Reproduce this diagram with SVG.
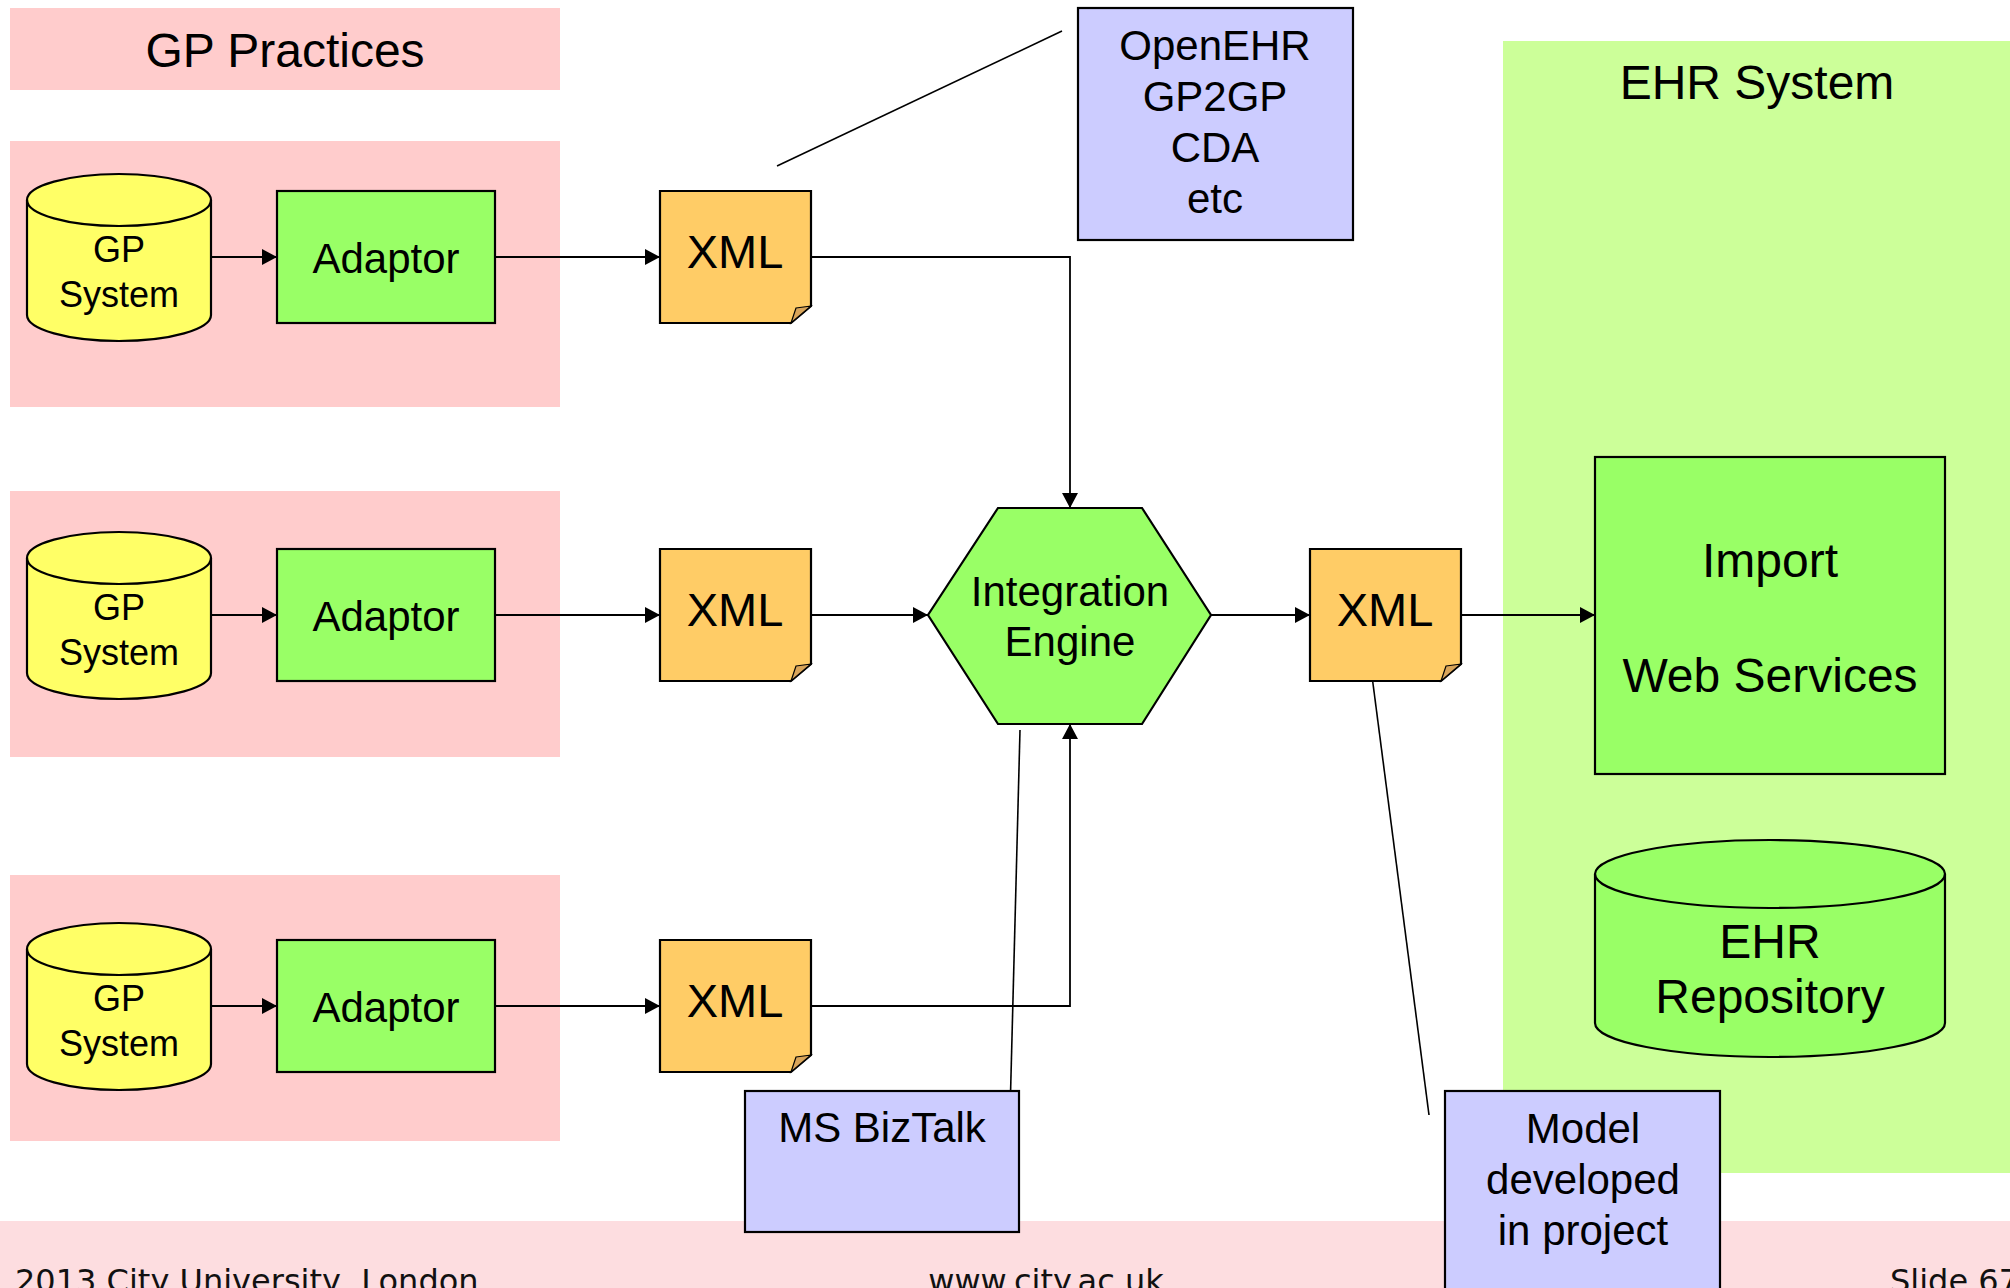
<svg xmlns="http://www.w3.org/2000/svg" width="2010" height="1288" viewBox="0 0 2010 1288">
  <defs>
    <style>
      .lbl { font-family: "Liberation Sans", Arial, sans-serif; fill: #000; text-anchor: middle; }
      .foot { font-family: "DejaVu Sans", Verdana, sans-serif; fill: #111; font-size: 32px; }
      .panel-gp { fill: #FFCCCC; }
      .panel-ehr { fill: #CCFF99; }
      .node-green { fill: #99FF66; stroke: #000; stroke-width: 2.2; }
      .node-yellow { fill: #FFFF66; stroke: #000; stroke-width: 2.2; }
      .node-xml { fill: #FFCC66; stroke: #000; stroke-width: 2.2; }
      .fold { fill: #D9A55A; stroke: #000; stroke-width: 1.2; }
      .note { fill: #CCCCFF; stroke: #000; stroke-width: 2.2; }
      .conn { fill: none; stroke: #000; stroke-width: 1.8; }
      .callout { fill: none; stroke: #000; stroke-width: 1.6; }
    </style>
    <marker id="arrowhead" viewBox="0 0 15 16" refX="15" refY="8" markerWidth="15" markerHeight="16" markerUnits="userSpaceOnUse" orient="auto">
      <path d="M0,0 L15,8 L0,16 z" fill="#000"/>
    </marker>
    <!-- database cylinder used by the three GP systems -->
    <g id="gpCylinder">
      <path class="node-yellow" d="M27,200 A92,26 0 0 1 211,200 L211,315 A92,26 0 0 1 27,315 Z"/>
      <path fill="none" stroke="#000" stroke-width="2.2" d="M27,200 A92,26 0 0 0 211,200"/>
    </g>
    <!-- XML document with a folded corner -->
    <g id="xmlDoc">
      <path class="node-xml" d="M0,0 H151 V115 L131,132 H0 Z"/>
      <path class="fold" d="M136,117 L151,115 L131,132 Z"/>
    </g>
  </defs>

  <rect width="2010" height="1288" fill="#FFFFFF"/>

  <!-- background panels -->
  <g id="panels">
    <rect class="panel-gp" x="10" y="8" width="550" height="82"/>
    <text class="lbl" x="285" y="67" font-size="48">GP Practices</text>
    <rect class="panel-gp" x="10" y="141" width="550" height="266"/>
    <rect class="panel-gp" x="10" y="491" width="550" height="266"/>
    <rect class="panel-gp" x="10" y="875" width="550" height="266"/>
    <rect class="panel-ehr" x="1503" y="41" width="507" height="1132"/>
    <text class="lbl" x="1757" y="99" font-size="48">EHR System</text>
  </g>

  <!-- footer band -->
  <g id="footer">
    <rect x="0" y="1221" width="2010" height="67" fill="#FDDDE0"/>
    <text class="foot" x="15" y="1292">2013 City University, London.</text>
    <text class="foot" x="1046" y="1292" text-anchor="middle">www.city.ac.uk</text>
    <text class="foot" x="1890" y="1292">Slide 67</text>
  </g>

  <!-- connectors -->
  <g id="connectors">
    <line class="conn" x1="211" y1="257" x2="277" y2="257" marker-end="url(#arrowhead)"/>
    <line class="conn" x1="495" y1="257" x2="660" y2="257" marker-end="url(#arrowhead)"/>
    <polyline class="conn" points="811,257 1070,257 1070,508" marker-end="url(#arrowhead)"/>

    <line class="conn" x1="211" y1="615" x2="277" y2="615" marker-end="url(#arrowhead)"/>
    <line class="conn" x1="495" y1="615" x2="660" y2="615" marker-end="url(#arrowhead)"/>
    <line class="conn" x1="811" y1="615" x2="928" y2="615" marker-end="url(#arrowhead)"/>

    <line class="conn" x1="211" y1="1006" x2="277" y2="1006" marker-end="url(#arrowhead)"/>
    <line class="conn" x1="495" y1="1006" x2="660" y2="1006" marker-end="url(#arrowhead)"/>
    <polyline class="conn" points="811,1006 1070,1006 1070,724" marker-end="url(#arrowhead)"/>

    <line class="conn" x1="1211" y1="615" x2="1310" y2="615" marker-end="url(#arrowhead)"/>
    <line class="conn" x1="1461" y1="615" x2="1595" y2="615" marker-end="url(#arrowhead)"/>

    <!-- annotation leader lines -->
    <line class="callout" x1="777" y1="166" x2="1062" y2="31"/>
    <line class="callout" x1="1020" y1="730" x2="1010" y2="1114"/>
    <line class="callout" x1="1372" y1="676" x2="1429" y2="1115"/>
  </g>

  <!-- row 1 -->
  <g id="gp-system-1">
    <use href="#gpCylinder"/>
    <text class="lbl" x="119" y="262" font-size="36">GP</text>
    <text class="lbl" x="119" y="307" font-size="36">System</text>
  </g>
  <g id="adaptor-1">
    <rect class="node-green" x="277" y="191" width="218" height="132"/>
    <text class="lbl" x="386" y="273" font-size="42">Adaptor</text>
  </g>
  <g id="xml-1">
    <use href="#xmlDoc" x="660" y="191"/>
    <text class="lbl" x="735" y="268" font-size="47">XML</text>
  </g>

  <!-- row 2 -->
  <g id="gp-system-2">
    <use href="#gpCylinder" y="358"/>
    <text class="lbl" x="119" y="620" font-size="36">GP</text>
    <text class="lbl" x="119" y="665" font-size="36">System</text>
  </g>
  <g id="adaptor-2">
    <rect class="node-green" x="277" y="549" width="218" height="132"/>
    <text class="lbl" x="386" y="631" font-size="42">Adaptor</text>
  </g>
  <g id="xml-2">
    <use href="#xmlDoc" x="660" y="549"/>
    <text class="lbl" x="735" y="626" font-size="47">XML</text>
  </g>

  <!-- row 3 -->
  <g id="gp-system-3">
    <use href="#gpCylinder" y="749"/>
    <text class="lbl" x="119" y="1011" font-size="36">GP</text>
    <text class="lbl" x="119" y="1056" font-size="36">System</text>
  </g>
  <g id="adaptor-3">
    <rect class="node-green" x="277" y="940" width="218" height="132"/>
    <text class="lbl" x="386" y="1022" font-size="42">Adaptor</text>
  </g>
  <g id="xml-3">
    <use href="#xmlDoc" x="660" y="940"/>
    <text class="lbl" x="735" y="1017" font-size="47">XML</text>
  </g>

  <!-- integration engine -->
  <g id="integration-engine">
    <polygon class="node-green" points="998,508 1142,508 1211,615 1142,724 998,724 928,615"/>
    <text class="lbl" x="1070" y="606" font-size="42">Integration</text>
    <text class="lbl" x="1070" y="656" font-size="42">Engine</text>
  </g>

  <!-- outgoing XML -->
  <g id="xml-out">
    <use href="#xmlDoc" x="1310" y="549"/>
    <text class="lbl" x="1385" y="626" font-size="47">XML</text>
  </g>

  <!-- EHR side -->
  <g id="import-web-services">
    <rect class="node-green" x="1595" y="457" width="350" height="317"/>
    <text class="lbl" x="1770" y="577" font-size="48">Import</text>
    <text class="lbl" x="1770" y="692" font-size="48">Web Services</text>
  </g>
  <g id="ehr-repository">
    <path class="node-green" d="M1595,874 A175,34 0 0 1 1945,874 L1945,1023 A175,34 0 0 1 1595,1023 Z"/>
    <path fill="none" stroke="#000" stroke-width="2.2" d="M1595,874 A175,34 0 0 0 1945,874"/>
    <text class="lbl" x="1770" y="958" font-size="48">EHR</text>
    <text class="lbl" x="1770" y="1013" font-size="48">Repository</text>
  </g>

  <!-- annotation boxes -->
  <g id="formats-note">
    <rect class="note" x="1078" y="8" width="275" height="232"/>
    <text class="lbl" x="1215" y="60" font-size="42">OpenEHR</text>
    <text class="lbl" x="1215" y="111" font-size="42">GP2GP</text>
    <text class="lbl" x="1215" y="162" font-size="42">CDA</text>
    <text class="lbl" x="1215" y="213" font-size="42">etc</text>
  </g>
  <g id="biztalk-note">
    <rect class="note" x="745" y="1091" width="274" height="141"/>
    <text class="lbl" x="882" y="1142" font-size="42">MS BizTalk</text>
  </g>
  <g id="model-note">
    <rect class="note" x="1445" y="1091" width="275" height="210"/>
    <text class="lbl" x="1583" y="1143" font-size="42">Model</text>
    <text class="lbl" x="1583" y="1194" font-size="42">developed</text>
    <text class="lbl" x="1583" y="1245" font-size="42">in project</text>
  </g>
</svg>
